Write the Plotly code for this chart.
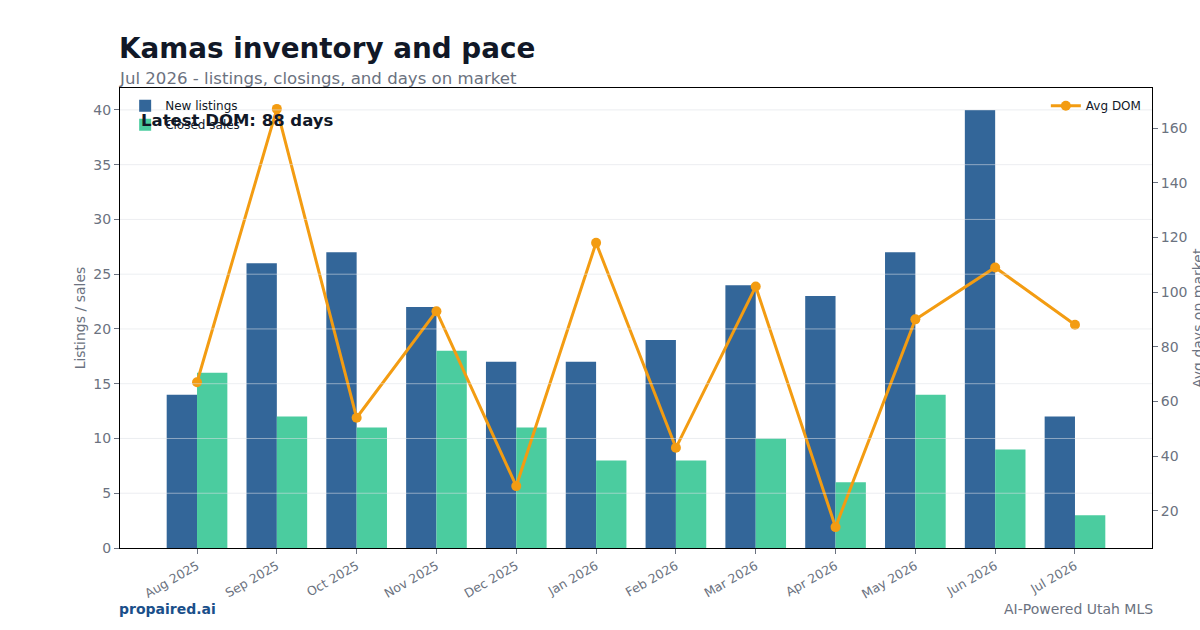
import plotly.graph_objects as go

months = ["Aug 2025", "Sep 2025", "Oct 2025", "Nov 2025", "Dec 2025", "Jan 2026",
          "Feb 2026", "Mar 2026", "Apr 2026", "May 2026", "Jun 2026", "Jul 2026"]
new_listings = [14, 26, 27, 22, 17, 17, 19, 24, 23, 27, 40, 12]
closed_sales = [16, 12, 11, 18, 11, 8, 8, 10, 6, 14, 9, 3]
avg_dom = [67, 167, 54, 93, 29, 118, 43, 102, 14, 90, 109, 88]
left_ticks = [0, 5, 10, 15, 20, 25, 30, 35, 40]
right_ticks = [20, 40, 60, 80, 100, 120, 140, 160]

GRAY = "#6b7280"
DARK = "#111827"

fig = go.Figure()
fig.add_trace(go.Bar(x=months, y=new_listings, name="New listings",
                     marker=dict(color="#336699", line=dict(width=0)), legend="legend"))
fig.add_trace(go.Bar(x=months, y=closed_sales, name="Closed sales",
                     marker=dict(color="#4bcc9f", line=dict(width=0)), legend="legend"))
fig.add_trace(go.Scatter(x=months, y=avg_dom, name="Avg DOM", yaxis="y2", mode="lines+markers",
                         line=dict(color="#f39c12", width=3),
                         marker=dict(color="#f39c12", size=10), legend="legend2"))

for t in left_ticks[1:]:
    fig.add_shape(type="line", xref="paper", x0=0, x1=1, yref="y", y0=t, y1=t,
                  line=dict(color="rgba(220,224,230,0.55)", width=1), layer="above")

fig.update_layout(
    width=1200, height=630,
    margin=dict(l=120, r=48, t=88, b=82, autoexpand=False),
    paper_bgcolor="white", plot_bgcolor="white",
    barmode="group", bargap=0.24, bargroupgap=0,
    font=dict(family="DejaVu Sans", color=GRAY, size=14),
    xaxis=dict(range=[-0.965, 11.965], tickangle=-30, tickfont=dict(size=12.5, color=GRAY),
               showline=True, linecolor="black", linewidth=1, mirror=True, automargin=False,
               ticks="outside", tickcolor=GRAY, ticklen=5, showgrid=False),
    yaxis=dict(range=[0, 42], tickvals=left_ticks, tickfont=dict(size=14, color=GRAY),
               title=dict(text="Listings / sales", font=dict(size=14, color=GRAY), standoff=4),
               showline=True, linecolor="black", linewidth=1, mirror=True, automargin=False,
               ticks="outside", tickcolor=GRAY, ticklen=5, showgrid=False, zeroline=False),
    yaxis2=dict(range=[6.35, 174.65], tickvals=right_ticks, overlaying="y", side="right",
                tickfont=dict(size=14, color=GRAY), automargin=False,
                showline=True, linecolor="black", linewidth=1,
                ticks="outside", tickcolor=GRAY, ticklen=5, showgrid=False, zeroline=False),
    legend=dict(x=0.005, y=0.993, xanchor="left", yanchor="top", bgcolor="rgba(255,255,255,0)",
                font=dict(size=12, color=DARK), tracegroupgap=0, itemwidth=30),
    legend2=dict(x=0.995, y=0.993, xanchor="right", yanchor="top", bgcolor="rgba(255,255,255,0)",
                 font=dict(size=12, color=DARK), itemwidth=30),
    showlegend=True,
)

fig.add_annotation(text="Avg days on market", xref="paper", yref="paper",
                   x=1, y=0.5, xshift=46, xanchor="center", yanchor="middle", textangle=-90,
                   showarrow=False, font=dict(size=14, color=GRAY))
fig.add_annotation(text="<b>Kamas inventory and pace</b>", xref="paper", yref="paper",
                   x=0, y=1, xshift=-3, yshift=21, xanchor="left", yanchor="bottom",
                   showarrow=False, font=dict(size=27.8, color=DARK))
fig.add_annotation(text="Jul 2026 - listings, closings, and days on market", xref="paper", yref="paper",
                   x=0, y=1, xshift=-3, yshift=-2, xanchor="left", yanchor="bottom",
                   showarrow=False, font=dict(size=16.6, color=GRAY))
fig.add_annotation(text="<b>Latest DOM: %d days</b>" % avg_dom[-1], xref="paper", yref="paper",
                   x=0.018, y=0.93, xanchor="left", yanchor="middle",
                   showarrow=False, font=dict(size=16.5, color=DARK))
fig.add_annotation(text="<b>propaired.ai</b>", xref="paper", yref="paper",
                   x=0, y=0, yshift=-61, xanchor="left", yanchor="middle", xshift=-3,
                   showarrow=False, font=dict(size=14, color="#1a4f8a"))
fig.add_annotation(text="AI-Powered Utah MLS", xref="paper", yref="paper",
                   x=1, y=0, yshift=-61, xanchor="right", yanchor="middle", xshift=3,
                   showarrow=False, font=dict(size=14, color=GRAY))

fig.write_html("out.html")
